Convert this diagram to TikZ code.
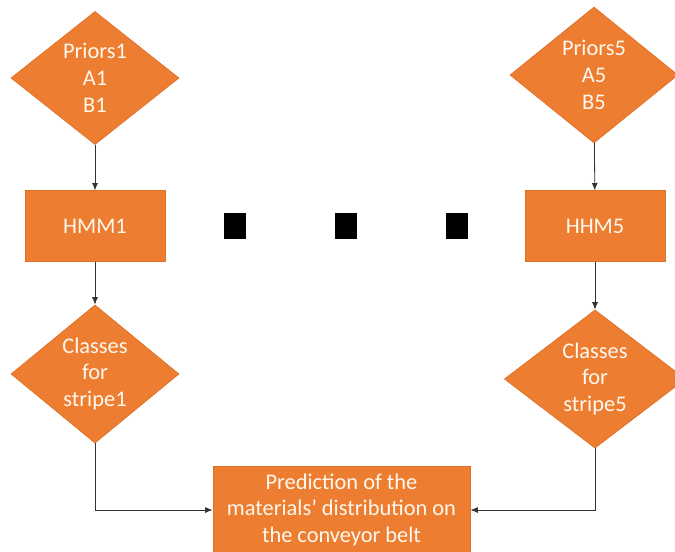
\documentclass[tikz,border=0pt]{standalone}
\usepackage{fontspec}
\setmainfont{Carlito}
\usetikzlibrary{shapes.geometric,arrows.meta}
\definecolor{boxorange}{RGB}{237,125,49}
\definecolor{boxedge}{RGB}{222,112,40}
\definecolor{boxtext}{RGB}{255,248,238}
\begin{document}
\begin{tikzpicture}[
  x=0.75pt, y=-0.75pt,
  flow_text/.style={text=boxtext, align=center, font=\fontsize{16.8}{20.2}\selectfont},
  prior_node/.style={diamond, fill=boxorange, draw=boxedge, line width=0.5pt, inner sep=0pt, flow_text, minimum width=126pt, minimum height=99pt},
  class_node/.style={prior_node, minimum height=98pt},
  hmm_node/.style={rectangle, fill=boxorange, draw=boxedge, line width=0.5pt, flow_text, minimum width=105pt, minimum height=53pt},
  pred_node/.style={hmm_node, minimum width=193pt, minimum height=66pt},
  dot_node/.style={rectangle, fill=black, inner sep=0pt, minimum width=17pt, minimum height=19.5pt},
  conn/.style={-{Latex[length=5.5pt,width=4.5pt]}, draw=black!80, line width=0.6pt}
]
\useasboundingbox (0,0) rectangle (675,551);

% Left column
\node[prior_node] (p1) at (95, 78) {Priors1\\A1\\B1};
\node[hmm_node]   (h1) at (95, 226) {HMM1};
\node[class_node] (c1) at (95, 374) {Classes\\for\\stripe1};

% Right column
\node[prior_node, minimum width=126pt, minimum height=102pt] (p5) at (594, 75) {Priors5\\A5\\B5};
\node[hmm_node]   (h5) at (595, 226) {HHM5};
\node[class_node, minimum width=136pt] (c5) at (595, 379) {Classes\\for\\stripe5};

% Dots in between
\foreach \k/\x in {1/235,2/346,3/457} {
  \node[dot_node] (d\k) at (\x, 226) {};
}

% Output
\node[pred_node] (pred) at (341.5, 510) {Prediction of the\\materials’ distribution on\\the conveyor belt};

% --- Connections ---
\draw[conn] (p1) -- (h1);
\draw[conn] (h1) -- (c1);
\draw[conn] (p5) -- (h5);
\draw[conn] (h5) -- (c5);
\draw[conn] (c1) |- (pred);
\draw[conn] (c5) |- (pred);

\end{tikzpicture}
\end{document}
